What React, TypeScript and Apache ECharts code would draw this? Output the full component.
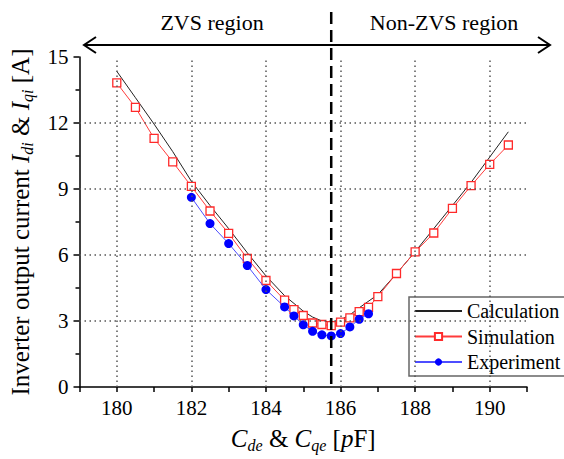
import React, { useEffect, useRef } from "react";
import * as echarts from "echarts";

// Capacitance sweep [pF] and inverter output current [A]
const calcX = [180, 180.5, 181, 181.5, 182, 182.5, 183, 183.5, 184, 184.5, 185, 185.25, 185.5, 185.75, 186, 186.25, 186.5, 187, 187.5, 188, 188.5, 189, 189.5, 190, 190.5];
const calcY = [14.35, 13.15, 11.95, 10.7, 9.35, 8.25, 7.2, 6.1, 5.05, 4.15, 3.45, 3.18, 3.0, 2.95, 3.05, 3.28, 3.6, 4.2, 5.15, 6.15, 7.2, 8.25, 9.3, 10.45, 11.6];

const simX = [180, 180.5, 181, 181.5, 182, 182.5, 183, 183.5, 184, 184.5, 184.75, 185, 185.25, 185.5, 185.75, 186, 186.25, 186.5, 186.75, 187, 187.5, 188, 188.5, 189, 189.5, 190, 190.5];
const simY = [13.82, 12.71, 11.3, 10.23, 9.12, 8.0, 6.98, 5.84, 4.84, 3.95, 3.52, 3.25, 2.91, 2.84, 2.79, 2.95, 3.14, 3.43, 3.62, 4.11, 5.16, 6.14, 7.0, 8.12, 9.15, 10.12, 11.0];

const expX = [182, 182.5, 183, 183.5, 184, 184.5, 184.75, 185, 185.25, 185.5, 185.75, 186, 186.25, 186.5, 186.75];
const expY = [8.62, 7.43, 6.52, 5.52, 4.43, 3.64, 3.23, 2.83, 2.53, 2.37, 2.32, 2.43, 2.73, 3.08, 3.33];

const xGridValues = [180, 182, 184, 186, 188, 190];
const yGridValues = [3, 6, 9, 12];
const boundaryX = 185.75;

const FONT = "Liberation Serif";

const zip = (xs: number[], ys: number[]) => xs.map((x, i) => [x, ys[i]]);

export default function App() {
  const ref = useRef<HTMLDivElement>(null);

  useEffect(() => {
    if (!ref.current) return;
    const chart = echarts.init(ref.current, null, { renderer: "svg" });

    const richBase = { fontFamily: FONT, fontSize: 25, color: "#000", lineHeight: 30 };
    const rich = {
      n: { ...richBase },
      i: { ...richBase, fontStyle: "italic" },
      s: { fontFamily: FONT, fontSize: 16, fontStyle: "italic", color: "#000", lineHeight: 14, verticalAlign: "bottom" },
    };
    const tickRich = { t: { fontFamily: FONT, fontSize: 21, color: "#000", lineHeight: 22 } };

    const gridLine = { color: "#555", width: 1.5, type: [1.5, 3.5] };

    chart.setOption({
      animation: false,
      backgroundColor: "#fff",
      textStyle: { fontFamily: FONT },
      grid: { left: 79, right: 37, top: 57, bottom: 72, containLabel: false },
      legend: {
        left: 409,
        top: 297,
        orient: "vertical",
        padding: [4, 8, 4, 5],
        itemGap: 5.5,
        itemWidth: 47,
        itemHeight: 9,
        borderColor: "#666",
        borderWidth: 1.5,
        backgroundColor: "#fff",
        formatter: (name: string) => `{t|${name}}`,
        textStyle: {
          fontFamily: FONT,
          fontSize: 20,
          color: "#000",
          lineHeight: 20,
          rich: { t: { fontFamily: FONT, fontSize: 20, color: "#000", lineHeight: 20 } },
        },
        data: [
          { name: "Calculation", itemStyle: { opacity: 0 } },
          { name: "Simulation" },
          { name: "Experiment" },
        ],
      },
      xAxis: {
        type: "value",
        min: 179,
        max: 191,
        interval: 1,
        name: "{i|C}{s|de}{n| & }{i|C}{s|qe}{n| [}{i|p}{n|F]}",
        nameLocation: "middle",
        nameGap: 36,
        nameTextStyle: { rich },
        axisLine: { lineStyle: { color: "#000", width: 1.5 } },
        axisTick: { show: true, inside: false, length: 5, lineStyle: { color: "#000", width: 1.5 } },
        axisLabel: {
          margin: 10,
          formatter: (v: number) => (v % 2 === 0 ? `{t|${v}}` : ""),
          rich: tickRich,
        },
        splitLine: { show: false },
      },
      yAxis: {
        type: "value",
        min: 0,
        max: 15,
        interval: 3,
        name: "{n|Inverter output current }{i|I}{s|di}{n| & }{i|I}{s|qi}{n| [A]}",
        nameLocation: "middle",
        nameGap: 44,
        nameTextStyle: { rich },
        axisLine: { show: true, lineStyle: { color: "#000", width: 1.5 } },
        axisTick: { show: true, inside: false, length: 6, lineStyle: { color: "#000", width: 1.5 } },
        minorTick: { show: true, splitNumber: 2, length: 4, lineStyle: { color: "#000", width: 1.5 } },
        axisLabel: { margin: 11, formatter: (v: number) => `{t|${v}}`, rich: tickRich },
        splitLine: { show: false },
      },
      series: [
        {
          name: "Calculation",
          type: "line",
          data: zip(calcX, calcY),
          showSymbol: false,
          symbol: "none",
          lineStyle: { color: "#222", width: 1 },
          itemStyle: { color: "#222" },
          z: 2,
          markLine: {
            silent: true,
            symbol: "none",
            label: { show: false },
            lineStyle: gridLine,
            data: [
              ...xGridValues.map((v) => ({ xAxis: v })),
              ...yGridValues.map((v) => ({ yAxis: v })),
            ],
          },
        },
        {
          name: "Simulation",
          type: "line",
          data: zip(simX, simY),
          symbol: "rect",
          symbolSize: 8,
          lineStyle: { color: "#ff3b3b", width: 1 },
          itemStyle: { color: "#fff", borderColor: "#ff2a2a", borderWidth: 1.3 },
          z: 3,
        },
        {
          name: "Experiment",
          type: "line",
          data: zip(expX, expY),
          symbol: "circle",
          symbolSize: 9,
          lineStyle: { color: "#4d4dff", width: 1 },
          itemStyle: { color: "#0000ff" },
          z: 4,
        },
      ],
    });

    // Region boundary and the ZVS / non-ZVS annotation above the plot
    const bx = chart.convertToPixel({ xAxisIndex: 0 }, boundaryX) as number;
    const by = chart.convertToPixel({ yAxisIndex: 0 }, 0) as number;
    const ay = 45;
    const leftTip = 84;
    const rightTip = 550;
    const arm = { stroke: "#000", lineWidth: 2, fill: "none" };
    chart.setOption({
      graphic: [
        {
          type: "line",
          z: 100,
          shape: { x1: bx, y1: 12, x2: bx, y2: by },
          style: { stroke: "#000", lineWidth: 2.5, lineDash: [12, 6] },
        },
        {
          type: "line",
          z: 100,
          shape: { x1: leftTip, y1: ay, x2: rightTip, y2: ay },
          style: { stroke: "#000", lineWidth: 1.8 },
        },
        {
          type: "polyline",
          z: 100,
          shape: { points: [[leftTip + 12, ay - 8], [leftTip, ay], [leftTip + 12, ay + 8]] },
          style: arm,
        },
        {
          type: "polyline",
          z: 100,
          shape: { points: [[rightTip - 12, ay - 8], [rightTip, ay], [rightTip - 12, ay + 8]] },
          style: arm,
        },
        {
          type: "text",
          z: 100,
          x: 212,
          y: 33,
          style: { text: "ZVS region", fontFamily: FONT, fontSize: 22, fill: "#000", align: "center", verticalAlign: "bottom" },
        },
        {
          type: "text",
          z: 100,
          x: 444,
          y: 33,
          style: { text: "Non-ZVS region", fontFamily: FONT, fontSize: 22, fill: "#000", align: "center", verticalAlign: "bottom" },
        },
      ],
    });

    return () => chart.dispose();
  }, []);

  return <div ref={ref} style={{ position: "fixed", left: 0, top: 0, width: 564, height: 459 }} />;
}
